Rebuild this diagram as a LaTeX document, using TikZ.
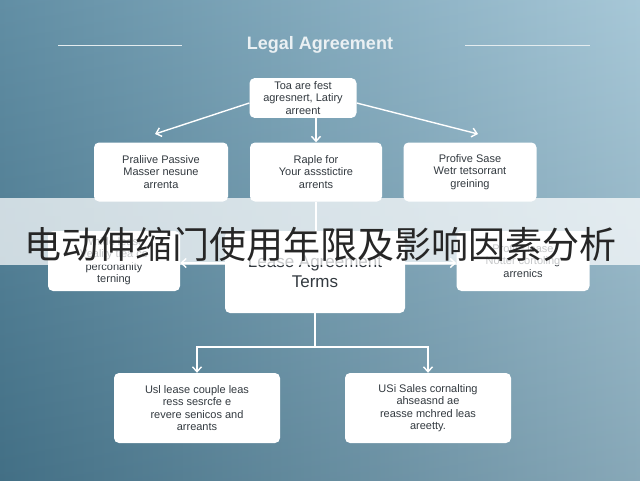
\documentclass[tikz,border=0pt]{standalone}
\usepackage{fontspec}
\setmainfont{Liberation Sans}
\newfontfamily\cjk{Noto Sans CJK SC}
\usetikzlibrary{arrows.meta}
\definecolor{bgL}{HTML}{4C7F98}
\definecolor{bgR}{HTML}{9BC0D2}
\definecolor{txt}{HTML}{333A40}
\begin{document}
\begin{tikzpicture}[x=1pt,y=-1pt,
  box/.style={draw=none,fill=white,rounded corners=5pt,align=center,font=\fontsize{11}{12.5}\selectfont,text=txt},
  conn/.style={draw=white,line width=1.4pt},
  arr/.style={conn,-{Straight Barb[length=5pt,width=9pt]}}]
\shade[left color=bgL,right color=bgR] (0,0) rectangle (640,480);
\shade[top color=white,bottom color=black,opacity=0.12] (0,0) rectangle (640,480);
\useasboundingbox (0,0) rectangle (640,480);
\node[font=\bfseries\fontsize{18}{20}\selectfont,text=white!88!bgL] (title) at (320,45) {Legal Agreement};
\coordinate (l1) at (58,45); \coordinate (l2) at (182,45);
\coordinate (r1) at (465,45); \coordinate (r2) at (590,45);
\draw[white!85!bgL,line width=1pt] (l1)--(l2) (r1)--(r2);
\node[box,minimum width=107pt,minimum height=39pt] (top) at (303,98) {Toa are fest\\agresnert, Latiry\\arreent};
\node[box,minimum width=134pt,minimum height=59pt] (a) at (161,172) {Praliive Passive\\Masser nesune\\arrenta};
\node[box,minimum width=132pt,minimum height=59pt] (b) at (316,172) {Raple for\\Your assstictire\\arrents};
\node[box,minimum width=133pt,minimum height=59pt] (c) at (470,172) {Profive Sase\\Wetr tetsorrant\\greining};
\node[box,minimum width=132pt,minimum height=60pt] (d) at (114,261) {Wnide lease\\Veality tlea co\\perconanity\\terning};
\node[box,minimum width=180pt,minimum height=82pt,font=\fontsize{17}{20}\selectfont] (e) at (315,272) {Lease Agreement\\Terms};
\node[box,minimum width=133pt,minimum height=60pt] (f) at (523,261) {Protite lease\\Notter cortoling\\arrenics};
\node[box,minimum width=166pt,minimum height=70pt] (g) at (197,408) {Usl lease couple leas\\ress sesrcfe e\\revere senicos and\\arreants};
\node[box,minimum width=166pt,minimum height=70pt] (h) at (428,408) {USi Sales cornalting\\ahseasnd ae\\reasse mchred leas\\areetty.};
\draw[arr] (top.west) ++(0,5) -- (155,134);
\draw[arr] (top.south -| b) -- (b.north);
\draw[arr] (top.east) ++(0,5) -- (478,134);
\draw[conn] (b.south) -- (b.south |- e.north);
\coordinate (ew) at ([yshift=9pt]e.west);
\coordinate (ee) at ([yshift=9pt]e.east);
\draw[arr] (ew) -- (ew -| d.east);
\draw[arr] (ee) -- (ee -| f.west);
\coordinate (j) at (e.south |- 0,347);
\draw[conn] (e.south) -- (j);
\draw[arr] (j) -| (g.north);
\draw[arr] (j) -| (h.north);
\fill[white,opacity=0.72] (0,198) rectangle (640,265);
\node[font=\cjk\fontsize{37}{40}\selectfont,text=black!85] (ban) at (320,244) {电动伸缩门使用年限及影响因素分析};
\end{tikzpicture}
\end{document}
